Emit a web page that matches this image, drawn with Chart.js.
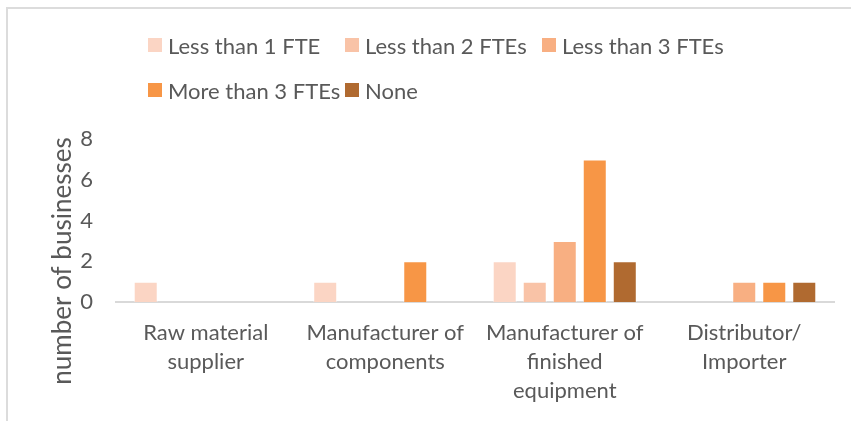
<!DOCTYPE html>
<html>
<head>
<meta charset="utf-8">
<script src="https://cdn.jsdelivr.net/npm/chart.js@4"></script>
<style>
  html, body { margin: 0; padding: 0; background: #fff; }
  #wrap { position: relative; width: 851px; height: 421px; overflow: hidden; }
  #frame { position: absolute; left: 6px; top: 7px; right: -10px; bottom: -10px;
           border-top: 2px solid #DCDCDC; border-left: 2px solid #DCDCDC; }
  #legend { position: absolute; left: 148px; top: 35px; display: grid;
            grid-template-columns: 197px 197px 197px; row-gap: 25px;
            font-family: Lato, sans-serif; font-size: 22px; color: #595959; }
  .item { display: flex; align-items: center; height: 20px; white-space: nowrap; }
  .box { width: 14px; height: 14px; margin-right: 6px; }
  canvas { position: absolute; left: 0; top: 0; }
</style>
</head>
<body>
<div id="wrap">
  <div id="frame"></div>
  <canvas id="chart" width="851" height="421"></canvas>
  <div id="legend"></div>
</div>
<script>
const categories = [
  ["Raw material", "supplier"],
  ["Manufacturer of", "components"],
  ["Manufacturer of", "finished", "equipment"],
  ["Distributor/", "Importer"]
];
const seriesNames = ["Less than 1 FTE", "Less than 2 FTEs", "Less than 3 FTEs", "More than 3 FTEs", "None"];
const lessThan1 = [1, 1, 2, 0];
const lessThan2 = [0, 0, 1, 0];
const lessThan3 = [0, 0, 3, 1];
const moreThan3 = [0, 2, 7, 1];
const none = [0, 0, 2, 1];
const yTicks = [0, 2, 4, 6, 8];
const colors = ["#FBD5C4", "#F9C3A7", "#F8AF82", "#F79646", "#B06A30"];

const values = [lessThan1, lessThan2, lessThan3, moreThan3, none];
const font = "Lato, sans-serif";

// axis title drawn by hand so it sits where the original has it
const yTitle = {
  id: "yTitle",
  afterDraw(chart) {
    const c = chart.ctx;
    c.save();
    c.translate(71, 261);
    c.rotate(-Math.PI / 2);
    c.font = "26px " + font;
    c.fillStyle = "#595959";
    c.textAlign = "center";
    c.textBaseline = "alphabetic";
    c.fillText("number of businesses", 0, 0);
    c.restore();
  }
};

const chart = new Chart(document.getElementById("chart"), {
  type: "bar",
  data: {
    labels: categories,
    datasets: seriesNames.map((name, i) => ({
      label: name,
      data: values[i],
      backgroundColor: colors[i],
      borderColor: "rgba(255,255,255,0.5)",
      borderWidth: 1,
      categoryPercentage: 0.836,
      barPercentage: 0.8
    }))
  },
  options: {
    responsive: false,
    animation: false,
    layout: { padding: { top: 139, right: 17, left: 0, bottom: 0 } },
    plugins: { legend: { display: false }, tooltip: { enabled: false } },
    scales: {
      x: {
        grid: { display: false, drawTicks: false },
        border: { display: true, color: "#D9D9D9", width: 2 },
        ticks: { color: "#595959", font: { family: font, size: 22, lineHeight: 1.32 }, padding: 16, maxRotation: 0 },
        afterFit(scale) { scale.height = 421 - 302; }
      },
      y: {
        min: 0,
        max: 8,
        grid: { display: false, drawTicks: false },
        border: { display: false },
        afterBuildTicks(scale) { scale.ticks = yTicks.map(v => ({ value: v })); },
        ticks: { color: "#595959", font: { family: font, size: 22 }, padding: 23 },
        afterFit(scale) { scale.width = 116; }
      }
    }
  },
  plugins: [yTitle]
});

const legend = document.getElementById("legend");
chart.data.datasets.forEach(ds => {
  const item = document.createElement("div");
  item.className = "item";
  const box = document.createElement("span");
  box.className = "box";
  box.style.background = ds.backgroundColor;
  const txt = document.createElement("span");
  txt.textContent = ds.label;
  item.appendChild(box);
  item.appendChild(txt);
  legend.appendChild(item);
});
</script>
</body>
</html>
